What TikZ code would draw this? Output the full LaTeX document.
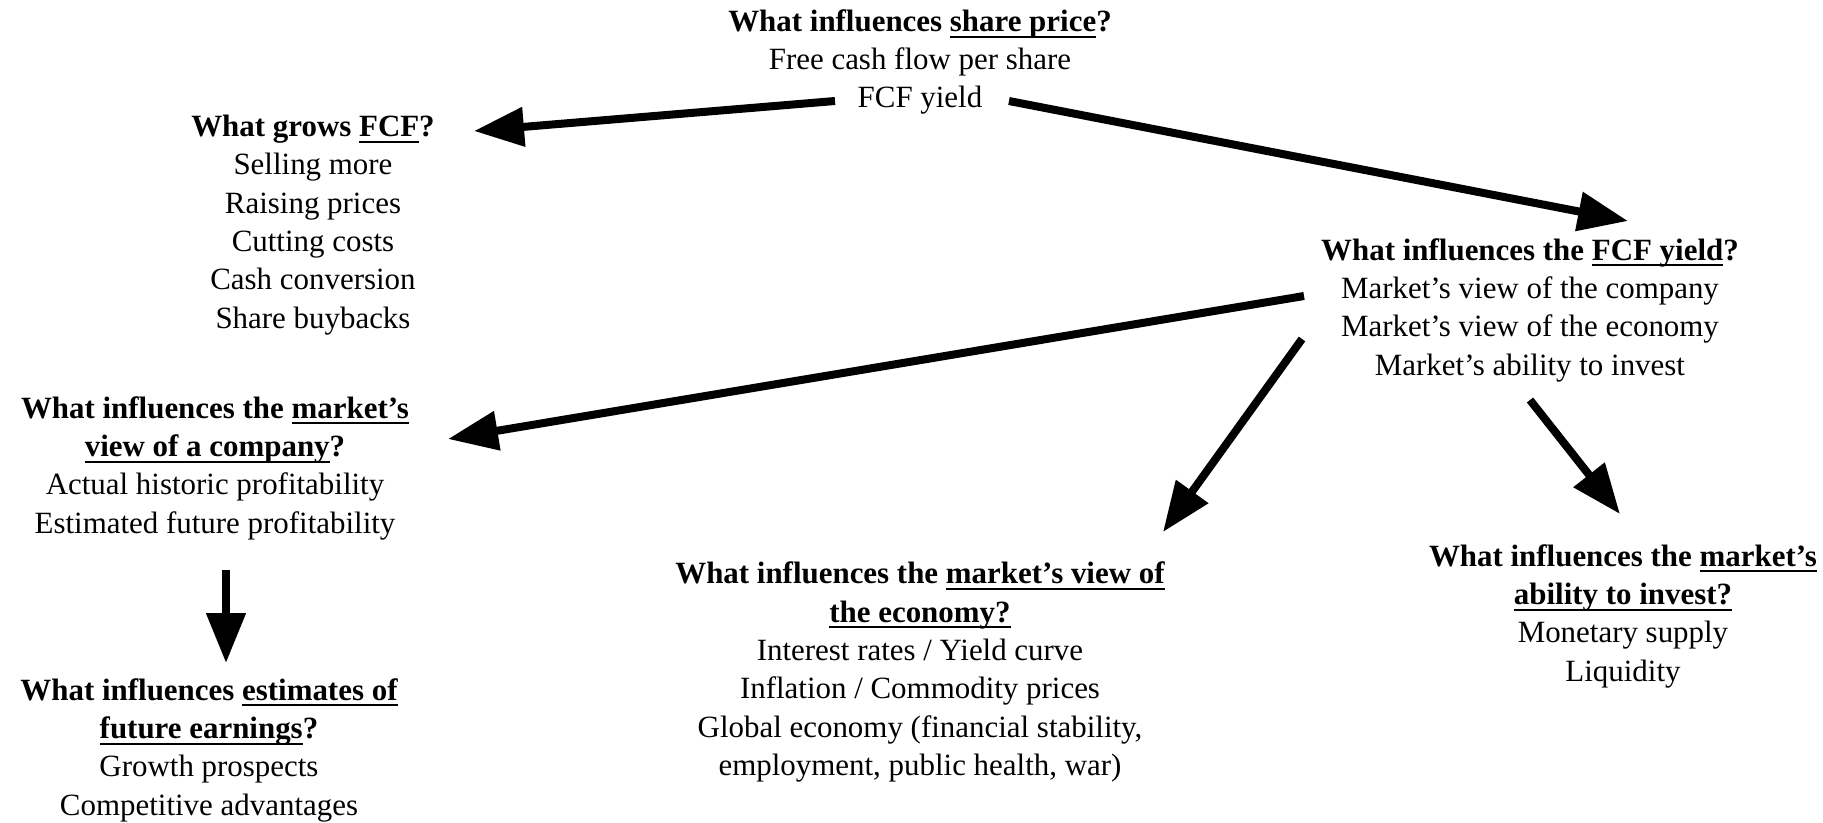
\documentclass[tikz,border=0pt]{standalone}
\usepackage{fontspec}
\setmainfont{Liberation Serif}
\usepackage{tikz}
\usetikzlibrary{arrows.meta}

\tikzset{
  txt/.style={align=center,inner sep=0pt,font=\fontsize{8.8}{10.9}\selectfont},
  arr/.style={line width=0.8mm,-{Triangle[length=5mm,width=3.8mm]}},
}
\newsavebox{\ulbox}
\newcommand{\ul}[1]{\sbox{\ulbox}{#1}\rlap{\rule[-1.8pt]{\wd\ulbox}{0.55pt}}\usebox{\ulbox}}

\begin{document}
\begin{tikzpicture}
\useasboundingbox (0,0) rectangle (18.23,-8.22);
% questions
\node[txt] (price) at (9.20,-0.62) {\textbf{What influences \ul{share price}?}\\Free cash flow per share\\FCF yield};
\node[txt] (fcf) at (3.13,-2.25) {\textbf{What grows \ul{FCF}?}\\Selling more\\Raising prices\\Cutting costs\\Cash conversion\\Share buybacks};
\node[txt] (yield) at (15.30,-3.10) {\textbf{What influences the \ul{FCF yield}?}\\Market’s view of the company\\Market’s view of the economy\\Market’s ability to invest};
\node[txt] (company) at (2.15,-4.68) {\textbf{What influences the \ul{market’s}}\\\textbf{\ul{view of a company}?}\\Actual historic profitability\\Estimated future profitability};
\node[txt] (estim) at (2.09,-7.50) {\textbf{What influences \ul{estimates of}}\\\textbf{\ul{future earnings}?}\\Growth prospects\\Competitive advantages};
\node[txt] (economy) at (9.20,-6.72) {\textbf{What influences the \ul{market’s view of}}\\\textbf{\ul{the economy?}}\\Interest rates / Yield curve\\Inflation / Commodity prices\\Global economy (financial stability,\\employment, public health, war)};
\node[txt] (invest) at (16.23,-6.16) {\textbf{What influences the \ul{market’s}}\\\textbf{\ul{ability to invest?}}\\Monetary supply\\Liquidity};
% arrow ends
\coordinate (p1) at (8.35,-1.01);
\coordinate (p2) at (10.09,-1.01);
\coordinate (q1) at (4.74,-1.31);
\coordinate (q2) at (16.28,-2.21);
\coordinate (y1) at (13.04,-2.96);
\coordinate (y2) at (13.02,-3.39);
\coordinate (y3) at (15.30,-4.00);
\coordinate (c1) at (4.48,-4.39);
\coordinate (e1) at (11.63,-5.32);
\coordinate (i1) at (16.20,-5.14);
\coordinate (m1) at (2.26,-5.70);
\coordinate (m2) at (2.26,-6.63);
\draw[arr] (p1) -- (q1);
\draw[arr] (p2) -- (q2);
\draw[arr] (y1) -- (c1);
\draw[arr] (y2) -- (e1);
\draw[arr] (y3) -- (i1);
\draw[arr] (m1) -- (m2);
\end{tikzpicture}
\end{document}
